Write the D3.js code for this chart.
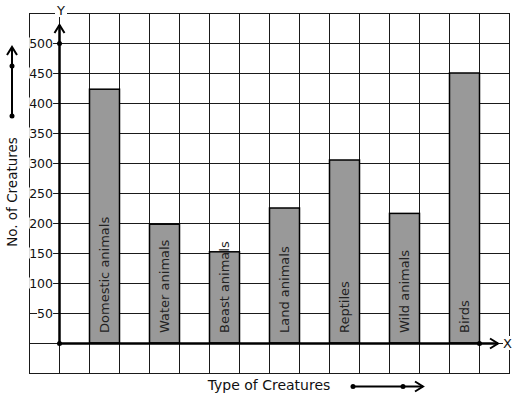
<!DOCTYPE html>
<html>
<head>
<meta charset="utf-8">
<script src="https://cdn.jsdelivr.net/npm/d3@7"></script>
<style>
  body { margin: 0; background: #fff; }
  svg { display: block; font-family: "DejaVu Sans", sans-serif; }
</style>
</head>
<body>
<svg id="chart" width="517" height="399"></svg>
<script>
// chart data
var categories = ["Domestic animals", "Water animals", "Beast animals", "Land animals",
                  "Reptiles", "Wild animals", "Birds"];
var counts = [423, 198, 152, 225, 305, 216, 450];
var tickValues = [50, 100, 150, 200, 250, 300, 350, 400, 450, 500];

var svg = d3.select("#chart");

// grid is 16 x 12 squares of 30px
var gx = d3.scaleLinear().domain([0, 16]).range([29, 509]);
var y = d3.scaleLinear().domain([-50, 550]).range([373, 13]);
var x = d3.scaleBand().domain(categories).range([59, 509])
    .paddingInner(0.5).paddingOuter(0.5);

var grid = svg.append("g").attr("stroke", "#1a1a1a").attr("stroke-width", 1);
grid.selectAll("line.v").data(d3.range(0, 17))
    .enter().append("line")
    .attr("x1", function (d) { return gx(d) + 0.5; })
    .attr("x2", function (d) { return gx(d) + 0.5; })
    .attr("y1", y(550)).attr("y2", y(-50) + 1);
grid.selectAll("line.h").data(d3.range(-50, 551, 50))
    .enter().append("line")
    .attr("x1", gx(0)).attr("x2", gx(16) + 1)
    .attr("y1", function (d) { return y(d) + 0.5; })
    .attr("y2", function (d) { return y(d) + 0.5; });

// bars
svg.append("g").selectAll("rect").data(counts)
    .enter().append("rect")
    .attr("x", function (d, i) { return x(categories[i]) + 0.5; })
    .attr("width", x.bandwidth())
    .attr("y", function (d) { return y(d); })
    .attr("height", function (d) { return y(0) - y(d); })
    .attr("fill", "#999999")
    .attr("stroke", "#000")
    .attr("stroke-width", 1.5);

// labels inside bars
svg.append("g").selectAll("text").data(categories)
    .enter().append("text")
    .attr("transform", function (d) {
        return "translate(" + (x(d) + x.bandwidth() / 2 + 0.5) + "," + (y(0) - 10) + ") rotate(-90)";
    })
    .attr("dy", "0.36em")
    .attr("font-size", 13)
    .attr("fill", "#222")
    .text(function (d) { return d; });

// y tick labels with white background
var ticks = svg.append("g");
tickValues.forEach(function (v) {
    var t = ticks.append("text")
        .attr("x", 53).attr("y", y(v))
        .attr("dy", "0.36em")
        .attr("text-anchor", "end")
        .attr("font-size", 12.5)
        .attr("fill", "#111")
        .text(v);
    var bb = t.node().getBBox();
    ticks.insert("rect", "text")
        .attr("x", bb.x).attr("y", bb.y + 2)
        .attr("width", bb.width).attr("height", bb.height - 4)
        .attr("fill", "#fff");
});

// axes with open arrow heads
function chevron(g, tx, ty, dir) {
    var p;
    if (dir === "up") p = [[tx - 5, ty + 8], [tx, ty], [tx + 5, ty + 8]];
    else p = [[tx - 8, ty - 5], [tx, ty], [tx - 8, ty + 5]];
    g.append("path").attr("d", d3.line()(p))
        .attr("fill", "none").attr("stroke", "#000").attr("stroke-width", 2);
}
function dot(g, cx, cy) {
    g.append("circle").attr("cx", cx).attr("cy", cy).attr("r", 2.5).attr("fill", "#000");
}

var ax = svg.append("g");
var x0 = gx(1) + 0.5, y0 = y(0) + 0.5;
ax.append("line").attr("x1", x0).attr("x2", x0).attr("y1", y0).attr("y2", 25)
    .attr("stroke", "#000").attr("stroke-width", 2.5);
chevron(ax, x0, 25, "up");
dot(ax, x0, y(500) + 0.5);
ax.append("line").attr("x1", x0).attr("x2", 498).attr("y1", y0).attr("y2", y0)
    .attr("stroke", "#000").attr("stroke-width", 2.5);
chevron(ax, 498, y0, "right");
dot(ax, x0, y0);
dot(ax, gx(15) + 0.5, y0);

// axis letters
ax.append("rect").attr("x", 55).attr("y", 3).attr("width", 12).attr("height", 14).attr("fill", "#fff");
ax.append("text").attr("x", 61).attr("y", 15).attr("text-anchor", "middle")
    .attr("font-size", 13).attr("fill", "#111").text("Y");
ax.append("rect").attr("x", 503).attr("y", 336).attr("width", 10).attr("height", 14).attr("fill", "#fff");
ax.append("text").attr("x", 503).attr("y", y0).attr("dy", "0.36em")
    .attr("font-size", 13).attr("fill", "#111").text("X");

// axis titles with their arrows
svg.append("text")
    .attr("transform", "translate(17,192) rotate(-90)")
    .attr("text-anchor", "middle")
    .attr("font-size", 13.5).attr("fill", "#111")
    .text("No. of Creatures");
ax.append("line").attr("x1", 12).attr("x2", 12).attr("y1", 116).attr("y2", 47)
    .attr("stroke", "#000").attr("stroke-width", 2);
chevron(ax, 12, 47, "up");
dot(ax, 12, 116);
dot(ax, 12, 66);

svg.append("text")
    .attr("x", 269).attr("y", 389.5)
    .attr("text-anchor", "middle")
    .attr("font-size", 14).attr("fill", "#111")
    .text("Type of Creatures");
ax.append("line").attr("x1", 353).attr("x2", 423).attr("y1", 386.5).attr("y2", 386.5)
    .attr("stroke", "#000").attr("stroke-width", 2);
chevron(ax, 423, 386.5, "right");
dot(ax, 353, 386.5);
dot(ax, 403, 386.5);
</script>
</body>
</html>
